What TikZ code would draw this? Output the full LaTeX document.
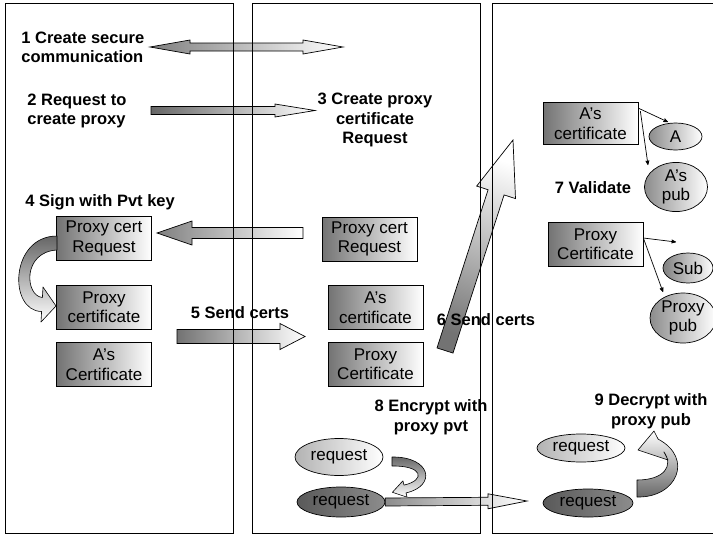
\documentclass[tikz,border=0pt]{standalone}
\usepackage{fontspec}
\setmainfont{Liberation Sans}
\usetikzlibrary{
  arrows,
  calc,
  shapes.geometric
}

\begin{document}
\begin{tikzpicture}[x=1pt,y=-1pt,
      cert/.style={
         rectangle,
         minimum width=95pt,
         minimum height=44pt,
         inner sep=0pt,
         draw=black,
         left color=black!55,
         right color=white,
         align=center,
         font=\fontsize{17}{19.5}\selectfont
      },
      key/.style={
         ellipse,
         inner sep=0pt,
         draw=black,
         left color=black!45,
         right color=white,
         align=center,
         font=\fontsize{17}{19.5}\selectfont
      },
      darkkey/.style={key,left color=black!65,right color=black!45},
      stepnote/.style={
         inner sep=0pt,
         font=\bfseries\fontsize{16.5}{19.5}\selectfont
      },
      block/.style args={#1/#2/#3}{
         to path={
           -- ($(\tikztostart)!#1!90:(\tikztotarget)$)
           -- ($(\tikztotarget)!#3!(\tikztostart)!#1!-90:(\tikztostart)$)
           -- ($(\tikztotarget)!#3!(\tikztostart)!#2!-90:(\tikztostart)$)
           -- (\tikztotarget)
           -- ($(\tikztotarget)!#3!(\tikztostart)!#2!90:(\tikztostart)$)
           -- ($(\tikztotarget)!#3!(\tikztostart)!#1!90:(\tikztostart)$)
           -- ($(\tikztostart)!#1!-90:(\tikztotarget)$)
           -- cycle
         }
      },
      dblock/.style args={#1/#2/#3}{
         to path={
           -- ($(\tikztostart)!#3!(\tikztotarget)!#2!90:(\tikztotarget)$)
           -- ($(\tikztostart)!#3!(\tikztotarget)!#1!90:(\tikztotarget)$)
           -- ($(\tikztotarget)!#3!(\tikztostart)!#1!-90:(\tikztostart)$)
           -- ($(\tikztotarget)!#3!(\tikztostart)!#2!-90:(\tikztostart)$)
           -- (\tikztotarget)
           -- ($(\tikztotarget)!#3!(\tikztostart)!#2!90:(\tikztostart)$)
           -- ($(\tikztotarget)!#3!(\tikztostart)!#1!90:(\tikztostart)$)
           -- ($(\tikztostart)!#3!(\tikztotarget)!#1!-90:(\tikztotarget)$)
           -- ($(\tikztostart)!#3!(\tikztotarget)!#2!-90:(\tikztotarget)$)
           -- cycle
         }
      },
      ribbon/.style={draw=black,line width=0.6pt,line join=round},
      thin tip/.style={->,>=stealth',line width=0.7pt},
      panel/.style={draw=black,line width=0.9pt},
      line width=0.7pt
    ]
  \useasboundingbox (0,0) rectangle (713,539);

  % free ends of the block arrows
  \coordinate (a1s) at (150,47);
  \coordinate (a1t) at (343,47);
  \coordinate (a2s) at (151,110.5);
  \coordinate (a2t) at (315,110.5);
  \coordinate (a4s) at (303,233);
  \coordinate (a4t) at (157,233);
  \coordinate (a5s) at (177,336.5);
  \coordinate (a5t) at (305,336.5);
  \coordinate (a6s) at (445,350.5);
  \coordinate (a6t) at (513,140);
  \coordinate (a8t) at (527,501);

  % left panel
  \node[cert] (n11) at (104,238.5) {Proxy cert\\Request};
  \node[cert] (n12) at (104,307) {Proxy\\certificate};
  \node[cert] (n13) at (104,364.5) {A's\\Certificate};

  % middle panel
  \node[cert] (n21) at (369.5,239) {Proxy cert\\Request};
  \node[cert] (n22) at (375.5,307.5) {A's\\certificate};
  \node[cert] (n23) at (375.5,364) {Proxy\\Certificate};
  \node[key,left color=black!30,minimum width=88pt,minimum height=37pt] (n24) at (339,457) {request};
  \node[darkkey,minimum width=88pt,minimum height=30pt] (n25) at (341,502) {request};

  % right panel
  \node[cert,minimum height=42pt] (n31) at (590.5,123.5) {A's\\certificate};
  \node[key,minimum width=53pt,minimum height=27pt] (n32) at (675.5,136.5) {A};
  \node[key,minimum width=63pt,minimum height=40pt] (n33) at (676,187) {A's\\pub};
  \node[cert] (n34) at (595.5,244) {Proxy\\Certificate};
  \node[key,left color=black!50,minimum width=50pt,minimum height=30pt] (n35) at (688,268) {Sub};
  \node[key,minimum width=66pt,minimum height=50pt] (n36) at (683,318) {Proxy\\pub};
  \node[key,left color=black!30,minimum width=88pt,minimum height=28pt] (n37) at (581,448) {request};
  \node[darkkey,minimum width=90pt,minimum height=28pt] (n38) at (588,503) {request};

  % block arrows
  \draw[dblock=4pt/7pt/40pt,left color=black!50,right color=white] (a1s) to (a1t);
  \draw[block=4pt/6.5pt/40pt,left color=black!60,right color=white] (a2s) to (a2t);
  \draw[block=5.5pt/12pt/35pt,left color=black!50,right color=white] (a4s) to (a4t);
  \draw[block=7pt/13pt/25pt,left color=black!55,right color=white] (a5s) to (a5t);
  \draw[block=8.4pt/20.4pt/55pt,top color=white,bottom color=black!55,shading angle=-18] (a6s) to (a6t);
  \draw[block=4pt/7.5pt/39pt,left color=black!45,right color=white] (n25.east) to (a8t);

  % curved arrows
  \draw[ribbon,top color=black!60,bottom color=white]
    (57,236) .. controls (10,236) and (8,311) .. (41.6,311.5)
    -- (41,322) -- (56,306) -- (43,287) -- (42.4,297.5)
    .. controls (25,296) and (22,252) .. (57,250) -- cycle;
  \draw[ribbon,top color=black!60,bottom color=white]
    (392,457) .. controls (431,456.5) and (437,486) .. (406,492.9)
    -- (407.1,497.2) -- (392.4,492.3) -- (402.9,480.8) -- (404,485.1)
    .. controls (426,480) and (423,465.5) .. (392,466) -- cycle;
  \draw[ribbon,top color=white,bottom color=black!60]
    (637,497) .. controls (677,498) and (694,458) .. (658.1,439.1)
    -- (654,431) -- (638,450) -- (668,460) -- (663.9,451.9)
    .. controls (674,466) and (664,480) .. (637,480) -- cycle;

  % thin arrows
  \draw[thin tip] ([yshift=-6pt]n31.north east) -- ([shift={(-7.5pt,14.5pt)}]n32.center);
  \draw[thin tip] ([xshift=2pt,yshift=-9pt]n31.north east) -- ([shift={(-28pt,22pt)}]n33.center);
  \draw[thin tip] ([yshift=6pt]n34.east) -- ([shift={(-12pt,26pt)}]n35.center);
  \draw[thin tip] ([yshift=6pt]n34.east) -- ([shift={(-20pt,26pt)}]n36.center);

  % step texts
  \node[stepnote,anchor=west,align=left] (t1) at (21,47.5) {1 Create secure\\communication};
  \node[stepnote,anchor=west,align=left] (t2) at (27,111) {2 Request to\\create proxy};
  \node[stepnote,align=center] (t3) at (375,120) {3 Create proxy\\certificate\\Request};
  \node[stepnote,anchor=west] (t4) at (25,202) {4 Sign with Pvt key};
  \node[stepnote] (t5) at (240,313) {5 Send certs};
  \node[stepnote] (t6) at (486,320) {6 Send certs};
  \node[stepnote] (t7) at (593,188) {7 Validate};
  \node[stepnote,align=center] (t8) at (431,417) {8 Encrypt with\\proxy pvt};
  \node[stepnote,align=center] (t9) at (651,411) {9 Decrypt with\\proxy pub};

  % panels
  \draw[panel] (5,3) rectangle (233,533);
  \draw[panel] (252,3) rectangle (480,533);
  \draw[panel] (492,3) rectangle (720,533);
\end{tikzpicture}
\end{document}
